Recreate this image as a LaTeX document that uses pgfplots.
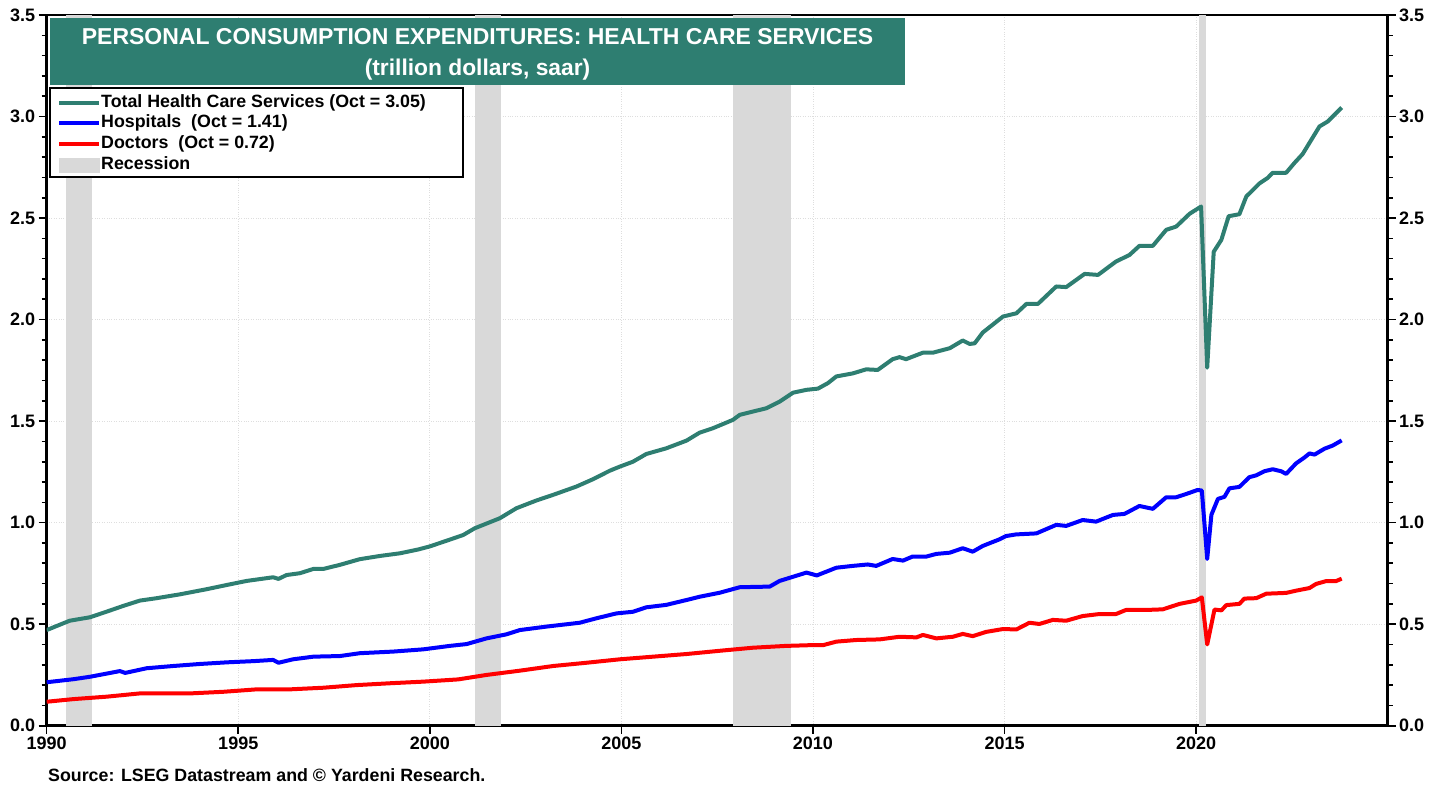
\documentclass[border=0pt]{standalone}
\usepackage{pgfplots}
\pgfplotsset{compat=1.18}
\usepackage{fontspec}
\setmainfont{Liberation Sans}
\definecolor{teal1}{RGB}{46,126,113}
\definecolor{recg}{RGB}{217,217,217}
\definecolor{gridc}{RGB}{222,222,222}

\pgfplotstableread{
x y
1990.00 0.471
1990.60 0.517
1991.13 0.534
1991.57 0.562
1992.00 0.590
1992.43 0.616
1992.87 0.628
1993.48 0.647
1994.17 0.672
1994.70 0.693
1995.22 0.713
1995.91 0.731
1996.05 0.723
1996.26 0.742
1996.61 0.751
1996.96 0.772
1997.22 0.772
1997.65 0.792
1998.17 0.820
1998.70 0.836
1999.22 0.849
1999.70 0.868
2000.00 0.883
2000.50 0.915
2000.87 0.939
2001.17 0.972
2001.83 1.022
2002.26 1.071
2002.78 1.109
2003.22 1.137
2003.83 1.178
2004.26 1.214
2004.70 1.256
2004.96 1.276
2005.30 1.300
2005.65 1.338
2006.17 1.366
2006.70 1.404
2007.04 1.443
2007.39 1.465
2007.91 1.506
2008.09 1.531
2008.43 1.547
2008.78 1.563
2009.13 1.596
2009.48 1.640
2009.83 1.654
2010.13 1.660
2010.39 1.687
2010.61 1.720
2011.04 1.735
2011.39 1.755
2011.69 1.752
2012.08 1.805
2012.26 1.815
2012.43 1.805
2012.87 1.837
2013.13 1.837
2013.57 1.859
2013.91 1.897
2014.09 1.880
2014.22 1.883
2014.43 1.936
2014.96 2.015
2015.31 2.031
2015.57 2.077
2015.87 2.077
2016.35 2.163
2016.61 2.160
2017.09 2.225
2017.44 2.220
2017.91 2.286
2018.26 2.318
2018.52 2.363
2018.87 2.363
2019.22 2.442
2019.48 2.458
2019.83 2.521
2020.13 2.557
2020.29 1.763
2020.46 2.334
2020.66 2.393
2020.85 2.509
2021.13 2.519
2021.31 2.606
2021.65 2.670
2021.87 2.698
2022.00 2.723
2022.35 2.723
2022.57 2.772
2022.78 2.815
2023.22 2.951
2023.44 2.976
2023.80 3.044
}\total

\pgfplotstableread{
x y
1990.00 0.214
1990.70 0.229
1991.13 0.241
1991.91 0.269
1992.05 0.260
1992.61 0.283
1993.30 0.294
1994.00 0.304
1994.70 0.312
1995.40 0.318
1995.91 0.324
1996.05 0.310
1996.43 0.327
1996.96 0.340
1997.65 0.343
1998.17 0.357
1999.04 0.365
1999.83 0.376
2000.52 0.393
2000.96 0.402
2001.48 0.430
2002.00 0.450
2002.35 0.471
2003.04 0.488
2003.91 0.507
2004.35 0.529
2004.87 0.553
2005.30 0.561
2005.65 0.583
2006.17 0.595
2006.70 0.619
2007.04 0.635
2007.57 0.655
2008.09 0.682
2008.87 0.685
2009.13 0.713
2009.83 0.754
2010.10 0.740
2010.61 0.778
2011.04 0.787
2011.43 0.794
2011.65 0.787
2012.08 0.821
2012.35 0.813
2012.60 0.833
2012.96 0.833
2013.22 0.846
2013.57 0.852
2013.91 0.874
2014.17 0.857
2014.43 0.885
2014.87 0.918
2015.04 0.934
2015.30 0.942
2015.83 0.947
2016.35 0.989
2016.61 0.984
2017.04 1.013
2017.39 1.005
2017.83 1.038
2018.13 1.043
2018.52 1.082
2018.87 1.068
2019.22 1.125
2019.48 1.125
2019.74 1.141
2020.04 1.161
2020.15 1.158
2020.29 0.821
2020.40 1.039
2020.57 1.117
2020.74 1.127
2020.87 1.169
2021.13 1.176
2021.39 1.224
2021.57 1.233
2021.78 1.253
2022.00 1.263
2022.22 1.253
2022.35 1.240
2022.61 1.292
2022.83 1.321
2022.96 1.341
2023.09 1.335
2023.35 1.364
2023.57 1.380
2023.80 1.405
}\hosp

\pgfplotstableread{
x y
1990.00 0.118
1990.70 0.131
1991.57 0.143
1992.43 0.159
1993.74 0.159
1994.61 0.167
1995.48 0.179
1996.35 0.179
1997.22 0.187
1998.09 0.200
1998.96 0.209
1999.83 0.217
2000.74 0.228
2001.48 0.250
2002.35 0.271
2003.22 0.294
2004.09 0.310
2004.96 0.327
2005.83 0.340
2006.70 0.353
2007.57 0.369
2008.43 0.384
2009.30 0.393
2010.00 0.397
2010.27 0.397
2010.61 0.414
2011.13 0.422
2011.74 0.425
2012.26 0.438
2012.70 0.435
2012.87 0.447
2013.22 0.430
2013.65 0.438
2013.91 0.452
2014.17 0.441
2014.52 0.462
2014.96 0.476
2015.31 0.474
2015.65 0.507
2015.91 0.501
2016.26 0.521
2016.61 0.517
2017.04 0.540
2017.48 0.550
2017.91 0.550
2018.17 0.570
2018.70 0.570
2019.13 0.573
2019.57 0.600
2020.00 0.616
2020.15 0.632
2020.29 0.400
2020.48 0.572
2020.66 0.568
2020.79 0.594
2021.13 0.600
2021.26 0.626
2021.57 0.628
2021.83 0.650
2022.35 0.654
2022.61 0.665
2022.96 0.678
2023.13 0.698
2023.39 0.712
2023.65 0.712
2023.80 0.724
}\docs

\begin{document}
\begin{tikzpicture}
\useasboundingbox (-46.7pt,-64.3pt) rectangle (1399.3pt,725.7pt);
\begin{axis}[
  name=main,
  scale only axis, width=1341pt, height=710.7pt,
  xmin=1990, xmax=2025, ymin=0, ymax=3.5,
  axis line style={line width=2.5pt},
  xtick={1990,1995,...,2020},
  xtick pos=bottom,
  ytick={0,0.5,...,3.5},
  ytick pos=both,
  minor y tick num=4,
  tick align=outside,
  major tick length=8pt, minor tick length=5pt,
  every tick/.style={black, line width=1.6pt},
  yticklabel pos=left,
  grid=major,
  major grid style={dotted, gridc, line width=0.9pt},
  /pgf/number format/assume math mode=true,
  /pgf/number format/1000 sep={},
  yticklabel style={/pgf/number format/.cd, fixed, fixed zerofill, precision=1},
  tick label style={font=\fontsize{18}{20}\selectfont\bfseries},
  legend cell align=left,
  legend image code/.code={\draw[#1] (0pt,0pt) -- (40pt,0pt);},
  legend style={at={(0.0077,0.889)}, anchor=north west, draw=none, fill=none,
    font=\fontsize{17.8}{20}\selectfont\bfseries, row sep=3.8pt,
    inner xsep=0pt, inner ysep=0pt, nodes={inner sep=0pt, text height=13pt, text depth=4pt},
    /tikz/every even column/.append style={column sep=10pt}},
]
\addplot[fill=recg, draw=none, forget plot] coordinates {(1990.50,0) (1990.50,3.5) (1991.17,3.5) (1991.17,0)} -- cycle;
\addplot[fill=recg, draw=none, forget plot] coordinates {(2001.17,0) (2001.17,3.5) (2001.85,3.5) (2001.85,0)} -- cycle;
\addplot[fill=recg, draw=none, forget plot] coordinates {(2007.92,0) (2007.92,3.5) (2009.42,3.5) (2009.42,0)} -- cycle;
\addplot[fill=recg, draw=none, forget plot] coordinates {(2020.08,0) (2020.08,3.5) (2020.25,3.5) (2020.25,0)} -- cycle;

\fill[teal1] (rel axis cs:0.0025,0.9015) rectangle (rel axis cs:0.640,0.9958);
\node[white, font=\fontsize{23}{26}\selectfont\bfseries] at (rel axis cs:0.3213,0.969) {PERSONAL CONSUMPTION EXPENDITURES: HEALTH CARE SERVICES};
\node[white, font=\fontsize{22.8}{26}\selectfont\bfseries] at (rel axis cs:0.3213,0.9226) {(trillion dollars, saar)};
\draw[line width=2pt, fill=white] (rel axis cs:0.0025,0.772) rectangle (rel axis cs:0.3104,0.897);

\addplot[teal1, line width=4pt, line join=round] table {\total};
\addlegendentry{Total Health Care Services (Oct = 3.05)}
\addplot[blue, line width=4pt, line join=round] table {\hosp};
\addlegendentry{Hospitals\ \ (Oct = 1.41)}
\addplot[red, line width=4pt, line join=round] table {\docs};
\addlegendentry{Doctors\ \ (Oct = 0.72)}
\addlegendimage{legend image code/.code={\fill[recg] (0pt,-7pt) rectangle (40pt,7pt);}}
\addlegendentry{Recession}
\end{axis}
\begin{axis}[
  scale only axis, width=1341pt, height=710.7pt,
  xmin=1990, xmax=2025, ymin=0, ymax=3.5,
  hide x axis,
  axis y line*=right,
  axis line style={draw=none},
  ytick={0,0.5,...,3.5},
  tick align=outside,
  major tick length=8pt,
  every tick/.style={draw=none},
  /pgf/number format/assume math mode=true,
  yticklabel style={/pgf/number format/.cd, fixed, fixed zerofill, precision=1},
  tick label style={font=\fontsize{18}{20}\selectfont\bfseries},
]
\end{axis}
\node[anchor=west, font=\fontsize{17.8}{20}\selectfont\bfseries, inner sep=0pt] at ([shift={(1.3pt,-49.3pt)}]main.south west) {Source: LSEG Datastream and © Yardeni Research.};
\end{tikzpicture}
\end{document}
